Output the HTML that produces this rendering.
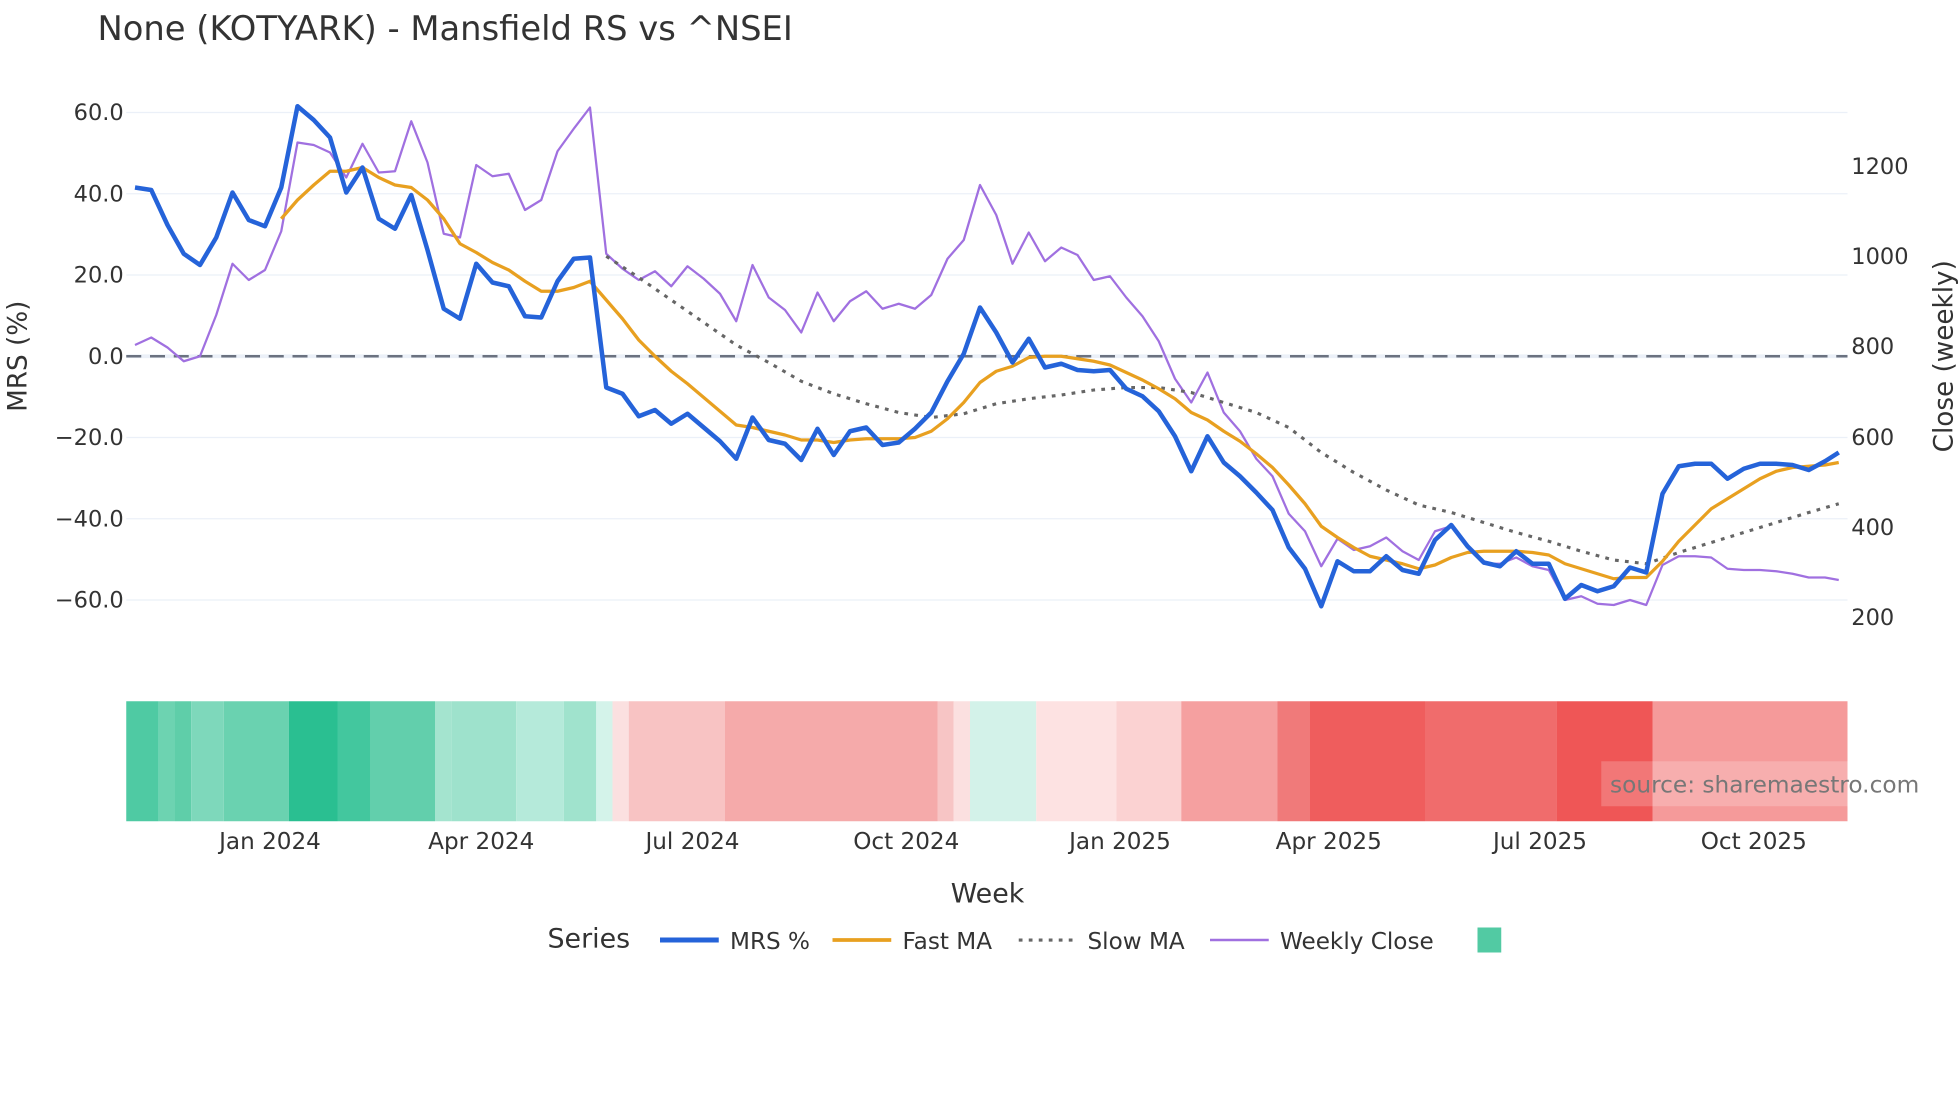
<!DOCTYPE html>
<html><head><meta charset="utf-8"><style>
html,body{margin:0;padding:0;background:#fff;}
svg{display:block;font-family:"DejaVu Sans","Liberation Sans",sans-serif;}
</style></head><body>
<svg width="1960" height="1102" viewBox="0 0 1568 881.6" xmlns="http://www.w3.org/2000/svg">
<rect width="1568" height="882" fill="#fff"/>
<text x="78" y="32" font-size="27" fill="#333">None (KOTYARK) - Mansfield RS vs ^NSEI</text>
<!-- grid -->
<g stroke="#ebf0f8" stroke-width="1">
<line x1="101" x2="1478" y1="90" y2="90"/><line x1="101" x2="1478" y1="155" y2="155"/>
<line x1="101" x2="1478" y1="220" y2="220"/><line x1="101" x2="1478" y1="350" y2="350"/>
<line x1="101" x2="1478" y1="415" y2="415"/><line x1="101" x2="1478" y1="480" y2="480"/>
</g>
<line x1="101" x2="1478" y1="285" y2="285" stroke="#ebf0f8" stroke-width="3"/>
<line x1="101" x2="1478" y1="285" y2="285" stroke="#6b7280" stroke-width="2" stroke-dasharray="12,7"/>
<g font-size="18" fill="#333" text-anchor="end">
<text x="99" y="96">60.0</text><text x="99" y="161">40.0</text><text x="99" y="226">20.0</text>
<text x="99" y="291">0.0</text><text x="99" y="356">−20.0</text><text x="99" y="421">−40.0</text><text x="99" y="486">−60.0</text>
</g>
<g font-size="18" fill="#333">
<text x="1481" y="139">1200</text><text x="1481" y="211">1000</text><text x="1481" y="283">800</text>
<text x="1481" y="356">600</text><text x="1481" y="428">400</text><text x="1481" y="500">200</text>
</g>
<text transform="translate(21,285) rotate(-90)" font-size="21" fill="#333" text-anchor="middle">MRS (%)</text>
<text transform="translate(1562,285) rotate(-90)" font-size="21" fill="#333" text-anchor="middle">Close (weekly)</text>

<polyline fill="none" stroke="#a070e0" stroke-width="1.8" stroke-linejoin="round" points="108,276 121,270 134,278 147,289 160,285 173,252 186,211 199,224 212,216 225,185 238,114 251,116 264,122 277,142 290,115 303,138 316,137 329,97 342,130 355,187 368,190 381,132 394,141 407,139 420,168 433,160 446,121 459,103 472,86 485,203 498,215 511,224 524,217 537,229 550,213 563,223 576,235 589,257 602,212 615,238 628,248 641,266 654,234 667,257 680,241 693,233 706,247 719,243 732,247 745,236 758,207 771,192 784,148 797,172 810,211 823,186 836,209 849,198 862,204 875,224 888,221 901,238 914,253 927,273 940,303 953,322 966,298 979,330 992,345 1005,367 1018,381 1031,411 1044,425 1057,453 1070,431 1083,440 1096,437 1109,430 1122,441 1135,448 1148,425 1161,421 1174,436 1187,451 1200,451 1213,446 1226,453 1239,456 1252,480 1265,477 1278,483 1291,484 1304,480 1317,484 1330,452 1343,445 1356,445 1369,446 1382,455 1395,456 1408,456 1421,457 1434,459 1447,462 1460,462 1471,464"/>
<polyline fill="none" stroke="#666" stroke-width="2.5" stroke-dasharray="3,5" points="485,205 511,222 537,240 563,258 589,276 615,290 641,305 667,315 693,323 719,330 745,334 771,331 797,323 823,319 849,316 875,312 901,310 927,310 953,314 979,322 1005,330 1031,342 1057,362 1083,378 1109,392 1135,404 1161,410 1187,418 1213,426 1239,433 1265,441 1291,448 1317,451 1343,442 1369,434 1395,426 1421,418 1447,410 1471,403"/>
<polyline fill="none" stroke="#e8a020" stroke-width="2.6" stroke-linejoin="round" points="225,175 238,160 251,148 264,137 277,137 290,134 303,142 316,148 329,150 342,160 355,175 368,195 381,202 394,210 407,216 420,225 433,233 446,233 459,230 472,225 485,240 498,255 511,272 524,285 537,297 550,307 563,318 576,329 589,340 602,342 615,345 628,348 641,352 654,352 667,354 680,352 693,351 706,351 719,351 732,350 745,345 758,335 771,322 784,306 797,297 810,293 823,286 836,285 849,285 862,287 875,289 888,292 901,298 914,304 927,311 940,319 953,330 966,336 979,345 992,353 1005,363 1018,374 1031,388 1044,403 1057,421 1070,430 1083,438 1096,445 1109,448 1122,451 1135,455 1148,452 1161,446 1174,442 1187,441 1200,441 1213,441 1226,442 1239,444 1252,451 1265,455 1278,459 1291,463 1304,462 1317,462 1330,449 1343,433 1356,420 1369,407 1382,399 1395,391 1408,383 1421,377 1434,374 1447,373 1460,372 1471,370"/>
<polyline fill="none" stroke="#2563d9" stroke-width="3.6" stroke-linejoin="round" points="108,150 121,152 134,180 147,203 160,212 173,190 186,154 199,176 212,181 225,150 238,85 251,96 264,110 277,154 290,134 303,175 316,183 329,156 342,200 355,247 368,255 381,211 394,226 407,229 420,253 433,254 446,225 459,207 472,206 485,310 498,315 511,333 524,328 537,339 550,331 563,342 576,353 589,367 602,334 615,352 628,355 641,368 654,343 667,364 680,345 693,342 706,356 719,354 732,343 745,330 758,305 771,283 784,246 797,266 810,290 823,271 836,294 849,291 862,296 875,297 888,296 901,311 914,317 927,329 940,349 953,377 966,349 979,370 992,381 1005,394 1018,408 1031,438 1044,455 1057,485 1070,449 1083,457 1096,457 1109,445 1122,456 1135,459 1148,432 1161,420 1174,437 1187,450 1200,453 1213,441 1226,451 1239,451 1252,479 1265,468 1278,473 1291,469 1304,454 1317,458 1330,395 1343,373 1356,371 1369,371 1382,383 1395,375 1408,371 1421,371 1434,372 1447,376 1460,369 1471,362"/>

<g>
<rect x="101" y="561" width="26" height="96" fill="#4fcaa3"/>
<rect x="127" y="561" width="13" height="96" fill="#6dd3b1"/>
<rect x="140" y="561" width="13" height="96" fill="#5fcea9"/>
<rect x="153" y="561" width="26" height="96" fill="#7ed8bb"/>
<rect x="179" y="561" width="52" height="96" fill="#6ad2b0"/>
<rect x="231" y="561" width="39" height="96" fill="#2abf91"/>
<rect x="270" y="561" width="26" height="96" fill="#43c79e"/>
<rect x="296" y="561" width="52" height="96" fill="#62cfac"/>
<rect x="348" y="561" width="13" height="96" fill="#a4e4cf"/>
<rect x="361" y="561" width="52" height="96" fill="#9ee2cc"/>
<rect x="413" y="561" width="38" height="96" fill="#b5eada"/>
<rect x="451" y="561" width="26" height="96" fill="#a0e3cd"/>
<rect x="477" y="561" width="13" height="96" fill="#d4f3ea"/>
<rect x="490" y="561" width="13" height="96" fill="#fbe0e0"/>
<rect x="503" y="561" width="77" height="96" fill="#f8c3c3"/>
<rect x="580" y="561" width="170" height="96" fill="#f5aaaa"/>
<rect x="750" y="561" width="13" height="96" fill="#f7c5c5"/>
<rect x="763" y="561" width="13" height="96" fill="#fbe0e0"/>
<rect x="776" y="561" width="53" height="96" fill="#d3f2e9"/>
<rect x="829" y="561" width="64" height="96" fill="#fde2e2"/>
<rect x="893" y="561" width="52" height="96" fill="#fbd2d2"/>
<rect x="945" y="561" width="77" height="96" fill="#f5a0a0"/>
<rect x="1022" y="561" width="26" height="96" fill="#f07a7a"/>
<rect x="1048" y="561" width="92" height="96" fill="#ef5d5d"/>
<rect x="1140" y="561" width="105" height="96" fill="#f06c6c"/>
<rect x="1245" y="561" width="77" height="96" fill="#ef5656"/>
<rect x="1322" y="561" width="156" height="96" fill="#f59a9a"/>
</g>
<rect x="1281" y="609" width="197" height="36" fill="#fff" fill-opacity="0.2"/>
<text x="1288" y="634" font-size="18.6" fill="#777">source: sharemaestro.com</text>

<g font-size="18.5" fill="#333" text-anchor="middle">
<text x="216" y="679">Jan 2024</text><text x="385" y="679">Apr 2024</text><text x="554" y="679">Jul 2024</text>
<text x="725" y="679">Oct 2024</text><text x="896" y="679">Jan 2025</text><text x="1063" y="679">Apr 2025</text>
<text x="1232" y="679">Jul 2025</text><text x="1403" y="679">Oct 2025</text>
</g>
<text x="790" y="722" font-size="21.5" fill="#333" text-anchor="middle">Week</text>

<text x="438" y="758" font-size="21.5" fill="#333">Series</text>
<line x1="528" x2="575" y1="752" y2="752" stroke="#2563d9" stroke-width="4"/>
<text x="584" y="759" font-size="18.5" fill="#333">MRS %</text>
<line x1="666" x2="713" y1="752" y2="752" stroke="#e8a020" stroke-width="3"/>
<text x="722" y="759" font-size="18.5" fill="#333">Fast MA</text>
<line x1="815" x2="858" y1="752" y2="752" stroke="#666" stroke-width="2.5" stroke-dasharray="3,5"/>
<text x="870" y="759" font-size="18.5" fill="#333">Slow MA</text>
<line x1="968" x2="1015" y1="752" y2="752" stroke="#a070e0" stroke-width="2"/>
<text x="1024" y="759" font-size="18.5" fill="#333">Weekly Close</text>
<rect x="1182" y="742" width="19" height="20" fill="#52caa3"/>
</svg>
</body></html>
